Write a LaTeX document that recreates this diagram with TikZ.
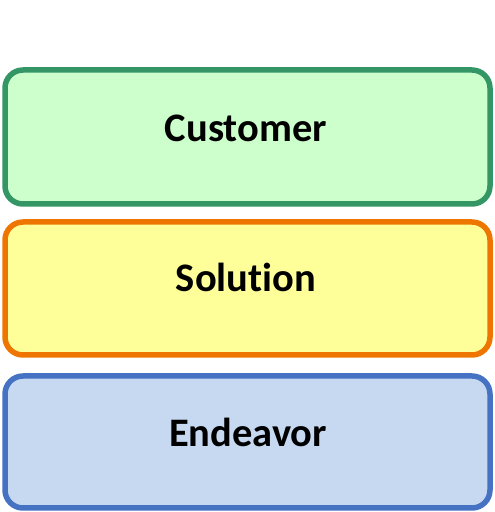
\documentclass[tikz,border=0pt]{standalone}
\usepackage{fontspec}
\setmainfont{Carlito}[Ligatures=NoCommon]
\definecolor{gborder}{RGB}{52,150,100}
\definecolor{gfill}{RGB}{204,255,204}
\definecolor{oborder}{RGB}{238,118,0}
\definecolor{ofill}{RGB}{255,255,153}
\definecolor{bborder}{RGB}{70,114,196}
\definecolor{bfill}{RGB}{198,217,240}
\tikzset{
  layerbox/.style={rectangle, rounded corners=18pt, line width=5.5pt,
    minimum width=485pt, inner sep=0pt, outer sep=0pt},
  layertext/.style={font=\fontsize{40.5}{48}\selectfont\bfseries, text=black, inner sep=0pt, anchor=base}
}
\begin{document}
\begin{tikzpicture}[x=1pt,y=1pt]
\useasboundingbox (0,0) rectangle (495,512);
\node[layerbox, draw=gborder, fill=gfill, minimum height=134pt] (customer) at (247.5,375) {};
\node[layerbox, draw=oborder, fill=ofill, minimum height=133pt] (solution) at (247.5,223.5) {};
\node[layerbox, draw=bborder, fill=bfill, minimum height=132pt] (endeavor) at (247.5,70) {};
\node[layertext] (customerlabel) at (246,370) {Customer};
\node[layertext] (solutionlabel) at (246,220) {Solution};
\node[layertext] (endeavorlabel) at (248,65) {Endeavor};
\end{tikzpicture}
\end{document}
